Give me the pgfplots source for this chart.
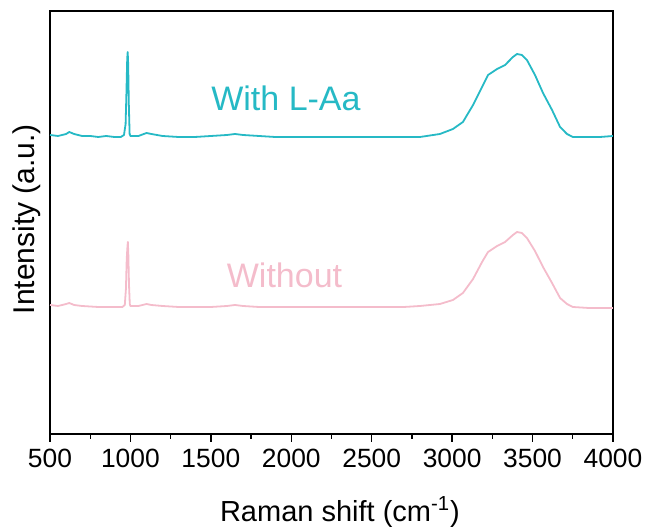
\documentclass[border=0pt]{standalone}
\usepackage{pgfplots}
\pgfplotsset{compat=1.18}
\usepackage{fontspec}
\setmainfont{Liberation Sans}
\definecolor{teal1}{RGB}{38,185,197}
\definecolor{pink1}{RGB}{244,188,203}
\begin{document}
\begin{tikzpicture}
\path[use as bounding box] (-25pt,-47.5pt) rectangle (299pt,217pt);
\begin{axis}[
  at={(0,0)}, anchor=south west,
  scale only axis, width=281.5pt, height=211.5pt,
  xmin=500, xmax=4000, ymin=0, ymax=423,
  xtick={500,1000,...,4000}, minor x tick num=1,
  ytick=\empty,
  xtick pos=bottom, tick align=outside,
  major tick length=4pt, minor tick length=2.5pt,
  axis line style={line width=0.8pt},
  every tick/.style={black, line width=0.7pt},
  /pgf/number format/assume math mode=true,
  /pgf/number format/set thousands separator={},
  ticklabel style={font=\fontsize{13.2}{15}\selectfont},
  xlabel={Raman shift (cm\textsuperscript{-1})},
  ylabel={Intensity (a.u.)},
  xlabel style={font=\fontsize{14.5}{17}\selectfont, at={(axis description cs:0.515,-0.184)}, anchor=center},
  ylabel style={font=\fontsize{15}{18}\selectfont, at={(axis description cs:-0.041,0.508)}, anchor=center},
  clip=true,
]
\addplot[pink1, line width=0.9pt, line join=round] coordinates {
(500,129)(550,128)(600,130)(620,131)(650,129)(700,128)(800,127)(900,127)(950,127)(965,129)(972,145)(977,175)(981,186)(984,192)(987,180)(991,150)(996,130)(1000,128)(1050,128)(1100,130)(1130,129)(1200,128)(1300,127)(1500,127)(1600,128)(1650,129)(1700,128)(1800,127)(2000,127)(2500,127)(2700,127)
(2800,128)(2924,130)(3005,134)(3067,141)(3130,155)(3186,172)(3223,182)(3279,188)(3329,192)(3378,199)(3403,202)(3434,201)(3465,196)(3515,183)(3565,167)(3621,151)(3671,136)(3714,130)(3751,127)(3850,126)(3919,126)(4000,126)
};
\addplot[teal1, line width=0.9pt, line join=round] coordinates {
(500,299)(550,298)(600,300)(620,302)(650,300)(700,298)(750,298)(800,297)(850,298)(900,297)(940,297)(960,299)(970,310)(975,340)(980,375)(983,382)(986,370)(990,330)(995,300)(1000,298)(1050,298)(1100,301)(1130,300)(1200,298)(1300,297)(1400,297)(1500,298)(1600,299)(1650,300)(1700,299)(1800,298)(1900,297)(2000,297)(2200,297)(2400,297)(2600,297)(2700,297)
(2800,297)(2924,300)(3005,305)(3067,312)(3130,329)(3186,347)(3223,359)(3279,365)(3329,369)(3378,377)(3403,380)(3434,379)(3465,374)(3515,359)(3565,341)(3621,324)(3671,307)(3714,300)(3751,297)(3850,297)(3919,297)(4000,298)
};
\node[teal1, font=\fontsize{17}{20}\selectfont] at (axis cs:1967,336) {With L-Aa};
\node[pink1, font=\fontsize{17}{20}\selectfont] at (axis cs:1958,159) {Without};
\end{axis}
\end{tikzpicture}
\end{document}
